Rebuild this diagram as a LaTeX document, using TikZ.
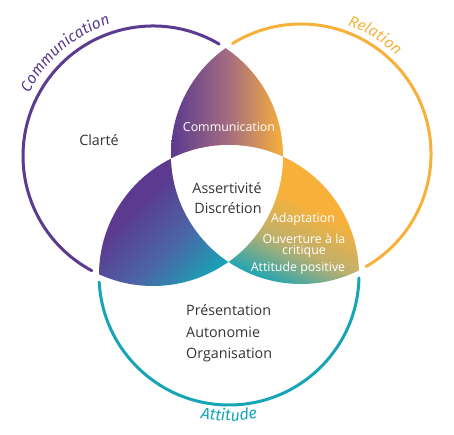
\documentclass[tikz,border=0pt]{standalone}
\usepackage{fontspec}
\setmainfont{Open Sans}
\newfontfamily\handfont{Fira Sans}
\usetikzlibrary{decorations.text}
\definecolor{cpurple}{HTML}{5B3A8F}
\definecolor{corange}{HTML}{F7B13B}
\definecolor{cteal}{HTML}{17A5B6}
\definecolor{cmauve}{HTML}{A26B80}
\definecolor{ckhaki}{HTML}{BDB06E}
\definecolor{cviolblue}{HTML}{4B65A6}
\definecolor{ctext}{HTML}{333333}
\tikzset{
  ring/.style={line width=3pt, line cap=round},
  bodytext/.style={text=ctext, font=\fontsize{14.3}{15}\selectfont, inner sep=0pt},
  lenstext/.style={text=white, font=\fontsize{12.4}{11}\selectfont, inner sep=0pt, align=center},
  curvelabel/.style={decorate, decoration={text along path, text align=center, text color=#1}},
}
% #1,#2 centre, #3 angle, #4 half length, #5 top, #6 middle, #7 bottom colour
\newcommand\lensgrad[7]{%
  \begin{scope}[transform canvas={rotate around={#3:(#1,#2)}}]
    \shade[top color=#5, bottom color=#7, middle color=#6] (#1-300,#2-#4) rectangle (#1+300,#2+#4);
    \fill[#5] (#1-300,#2+#4-0.3) rectangle (#1+300,#2+300);
    \fill[#7] (#1-300,#2-300) rectangle (#1+300,#2-#4+0.3);
  \end{scope}}
\begin{document}
\begin{tikzpicture}[x=1pt,y=1pt]
\useasboundingbox (0,0) rectangle (454,435);
\coordinate (P) at (153,279);
\coordinate (O) at (301,281);
\coordinate (T) at (229,160);
\def\R{130}
% top lens
\begin{scope}
  \clip (P) circle (\R);
  \clip (O) circle (\R);
  \shade[left color=cpurple, right color=corange, middle color=cmauve] (171,270) rectangle (283,390);
\end{scope}
% left lens
\begin{scope}
  \clip (P) circle (\R);
  \clip (T) circle (\R);
  \lensgrad{190}{208}{45}{52}{cpurple}{cviolblue}{cteal}
\end{scope}
% right lens
\begin{scope}
  \clip (O) circle (\R);
  \clip (T) circle (\R);
  \lensgrad{296}{186}{-25}{44}{corange}{ckhaki}{cteal}
\end{scope}
% white centre
\begin{scope}
  \clip (P) circle (\R);
  \clip (O) circle (\R);
  \fill[white] (T) circle (\R);
\end{scope}
% outline arcs
\draw[ring, cpurple] ([shift={(59.4:\R)}]P) arc[start angle=59.4, end angle=241.9, radius=\R];
\draw[ring, corange] ([shift={(-59.9:\R)}]O) arc[start angle=-59.9, end angle=121.8, radius=\R];
\draw[ring, cteal] ([shift={(183.1:\R)}]T) arc[start angle=183.1, end angle=358.7, radius=\R];
% curved labels
\path[curvelabel=cpurple, decoration={text={|\handfont\itshape\fontsize{15.5}{16}\selectfont|Communication}}]
  ([shift={(160.4:139)}]P) arc[start angle=160.4, end angle=100.4, radius=139];
\path[curvelabel=corange, decoration={text={|\handfont\itshape\fontsize{15.5}{16}\selectfont|Relation}}]
  ([shift={(88:137)}]O) arc[start angle=88, end angle=28, radius=137];
\path[curvelabel=cteal, decoration={text={|\handfont\itshape\fontsize{16}{16}\selectfont|Attitude}}]
  ([shift={(240:146)}]T) arc[start angle=240, end angle=300, radius=146];
% texts
\node[bodytext] (clarte) at (99,295) {Clarté};
\node[lenstext] (comm) at (229,308) {Communication};
\node[bodytext] (assert) at (227,247) {Assertivité};
\node[bodytext] (discr) at (228,227) {Discrétion};
\node[lenstext] (adapt) at (303,216) {Adaptation};
\node[lenstext] (ouv) at (304,189.5) {Ouverture à la\\critique};
\node[lenstext] (attpos) at (298,167) {Attitude positive};
\node[bodytext, anchor=base west] (pres) at (186,119) {Présentation};
\node[bodytext, anchor=base west] (auto) at (186,97.5) {Autonomie};
\node[bodytext, anchor=base west] (orga) at (186,76) {Organisation};
\end{tikzpicture}
\end{document}
